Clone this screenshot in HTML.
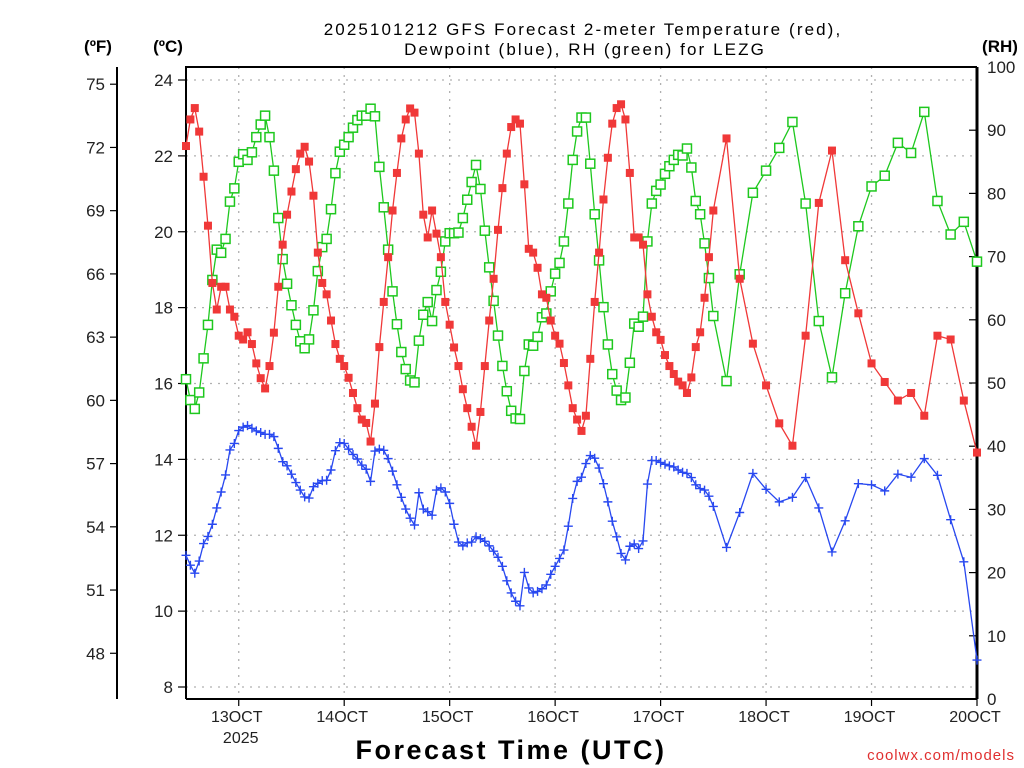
<!DOCTYPE html>
<html><head><meta charset="utf-8">
<style>
html,body{margin:0;padding:0;background:#fff;}
svg{display:block;font-family:"Liberation Sans",sans-serif;}
</style></head>
<body>
<svg id="chart" width="1024" height="768" viewBox="0 0 1024 768" xmlns="http://www.w3.org/2000/svg">
<text x="583" y="35" font-size="17" text-anchor="middle" fill="#000" letter-spacing="2.1">2025101212 GFS Forecast 2-meter Temperature (red),</text>
<text x="585" y="55" font-size="17" text-anchor="middle" fill="#000" letter-spacing="2.1">Dewpoint (blue), RH (green) for LEZG</text>
<text x="98" y="52" font-size="17" font-weight="bold" text-anchor="middle">(ºF)</text>
<text x="168" y="52" font-size="17" font-weight="bold" text-anchor="middle">(ºC)</text>
<text x="1000" y="52" font-size="17" font-weight="bold" text-anchor="middle">(RH)</text>
<g id="grid"></g>
<g id="axes"></g>
<g id="series"></g>
<text x="511" y="759" font-size="27" font-weight="bold" text-anchor="middle" letter-spacing="2.5">Forecast Time (UTC)</text>
<text x="1015" y="760" font-size="15" fill="#e03030" text-anchor="end" letter-spacing="1">coolwx.com/models</text>
</svg>
<script>
const tempC=[22.26,22.96,23.26,22.64,21.45,20.16,18.65,17.95,18.55,18.55,17.95,17.76,17.26,17.16,17.35,17.04,16.53,16.14,15.87,16.46,17.34,18.55,19.66,20.45,21.06,21.65,22.06,22.24,21.85,20.95,19.45,18.65,18.35,17.66,17.04,16.65,16.46,16.15,15.75,15.35,15.05,14.96,14.47,15.47,16.96,18.15,19.33,20.56,21.55,22.46,22.96,23.25,23.14,22.06,20.45,19.85,20.56,19.95,19.33,18.15,17.55,16.95,16.46,15.85,15.35,14.86,14.36,15.25,16.46,17.66,18.76,20.05,21.15,22.06,22.76,22.96,22.85,21.25,19.55,19.45,19.05,18.35,18.26,17.66,17.26,17.05,16.54,15.95,15.35,15.05,14.75,15.15,16.65,18.15,19.45,20.85,21.95,22.85,23.26,23.36,22.96,21.55,19.85,19.85,19.66,18.35,17.76,17.35,17.15,16.75,16.46,16.25,16.05,15.95,15.75,16.16,16.96,17.35,18.26,19.33,20.56,22.46,18.76,17.05,15.95,14.95,14.36,17.26,20.76,22.14,19.25,17.85,16.53,16.04,15.55,15.75,15.15,17.26,17.16,15.55,14.18];
const dewC=[11.47,11.21,11.0,11.32,11.78,11.97,12.29,12.72,13.14,13.59,14.25,14.42,14.76,14.85,14.89,14.82,14.75,14.71,14.66,14.66,14.6,14.29,13.94,13.83,13.61,13.39,13.19,13.01,12.98,13.28,13.37,13.44,13.45,13.72,14.23,14.44,14.42,14.27,14.13,14.01,13.85,13.74,13.42,14.22,14.27,14.24,14.02,13.69,13.33,13.0,12.69,12.45,12.27,13.12,12.69,12.62,12.53,13.19,13.25,13.14,12.84,12.29,11.82,11.72,11.8,11.82,11.96,11.91,11.84,11.72,11.58,11.42,11.18,10.8,10.48,10.26,10.14,11.02,10.61,10.48,10.52,10.59,10.69,10.97,11.18,11.39,11.61,12.24,12.97,13.42,13.53,13.89,14.1,14.03,13.77,13.36,12.88,12.37,11.96,11.52,11.35,11.71,11.77,11.65,11.85,13.35,13.97,13.97,13.92,13.87,13.83,13.8,13.72,13.66,13.63,13.52,13.33,13.23,13.19,13.03,12.76,11.68,12.6,13.63,13.21,12.88,13.0,13.52,12.72,11.56,12.38,13.36,13.33,13.17,13.61,13.53,14.02,13.58,12.41,11.3,8.71];
const rhPct=[50.6,47.3,45.9,48.5,53.9,59.2,66.3,71.1,70.6,72.8,78.7,80.8,85.0,86.2,85.3,86.5,88.9,90.9,92.3,88.9,83.6,76.1,69.6,65.7,62.3,59.2,56.6,55.5,56.9,61.5,67.7,71.5,72.8,77.5,83.2,86.6,87.7,88.9,90.4,91.6,92.3,92.3,93.4,92.2,84.2,77.8,71.1,64.5,59.3,54.9,52.2,50.4,50.1,56.7,60.8,62.8,59.8,64.7,67.6,72.4,73.7,73.7,73.8,76.1,79.0,81.8,84.5,80.7,74.1,68.3,63.0,57.5,52.7,48.7,45.6,44.4,44.3,51.9,56.1,55.9,57.3,60.4,61.0,64.5,67.3,69.0,72.4,78.4,85.3,89.8,92.0,92.0,84.7,76.7,69.4,62.0,56.1,51.4,48.8,47.3,47.7,53.2,59.4,58.9,60.5,72.4,78.4,80.4,81.4,83.1,84.3,85.3,86.1,86.0,87.1,84.1,78.8,76.7,72.1,66.6,60.6,50.3,67.2,80.1,83.6,87.2,91.3,78.4,59.8,50.9,64.2,74.8,81.1,82.8,88.0,86.4,92.9,78.8,73.5,75.5,69.2];
const dayLabels=["13OCT","14OCT","15OCT","16OCT","17OCT","18OCT","19OCT","20OCT"];
const cTicks=[24,22,20,18,16,14,12,10,8];
const fTicks=[75,72,69,66,63,60,57,54,51,48];
const rhTicks=[100,90,80,70,60,50,40,30,20,10,0];
// forecast hours: hourly 0..120, then every 3h to 180
const hours=[];
for(let h=0;h<=120;h++)hours.push(h);
for(let h=123;h<=180;h+=3)hours.push(h);

const NS="http://www.w3.org/2000/svg";
const L=186,R=977,T=67,B=699;
const xH=h=>L+(R-L)*h/180;
const yC=c=>80+(24-c)*(607/16);
const yF=f=>yC((f-32)*5/9);
const yRH=r=>B-(B-T)*r/100;
function mk(tag,attrs,parent){const e=document.createElementNS(NS,tag);for(const k in attrs)e.setAttribute(k,attrs[k]);parent.appendChild(e);return e;}
const grid=document.getElementById('grid'),axes=document.getElementById('axes'),ser=document.getElementById('series');

cTicks.forEach(c=>{
  const g=mk('line',{x1:L,x2:R,y1:yC(c),y2:yC(c),stroke:'#b0b0b0','stroke-width':1.3,'stroke-dasharray':'2,6'},grid);
  
  
  const t=mk('line',{x1:L-8,x2:L,y1:yC(c),y2:yC(c),stroke:'#000','stroke-width':1.2},axes);
  
  
  const lb=mk('text',{x:L-13,y:yC(c)+6,'font-size':17,'text-anchor':'end',fill:'#222'},axes);lb.textContent=c;
  
  
});
dayLabels.forEach((d,i)=>{
  const h=12+24*i,x=xH(h);
  if(i<7){const g=mk('line',{x1:x,x2:x,y1:T,y2:B,stroke:'#b0b0b0','stroke-width':1.3,'stroke-dasharray':'2,6'},grid);
  
  }
  const t=mk('line',{x1:x,x2:x,y1:B,y2:B+7,stroke:'#000','stroke-width':1.2},axes);
  
  
  const lb=mk('text',{x:x-2,y:722,'font-size':16,'text-anchor':'middle',fill:'#222'},axes);lb.textContent=d;
  
  
});
{const y=mk('text',{x:xH(12)+2,y:743,'font-size':16,'text-anchor':'middle',fill:'#222'},axes);y.textContent='2025';

}
const fl=mk('line',{x1:117,x2:117,y1:T,y2:B,stroke:'#000','stroke-width':2},axes);


fTicks.forEach(f=>{
  const t=mk('line',{x1:110,x2:117,y1:yF(f),y2:yF(f),stroke:'#000','stroke-width':1.2},axes);
  
  
  const lb=mk('text',{x:105,y:yF(f)+6,'font-size':17,'text-anchor':'end',fill:'#222'},axes);lb.textContent=f;
  
  
});
rhTicks.forEach(r=>{
  const t=mk('line',{x1:R-8,x2:R,y1:yRH(r),y2:yRH(r),stroke:'#000','stroke-width':1.2},axes);
  
  
  const lb=mk('text',{x:987,y:yRH(r)+6,'font-size':17,'text-anchor':'start',fill:'#222'},axes);lb.textContent=r;
  
  
});
const fr=mk('path',{d:`M${L},${B}V${T}H${R}`,fill:'none',stroke:'#000','stroke-width':2},axes);


const rb=mk('line',{x1:R,x2:R,y1:T,y2:B,stroke:'#000','stroke-width':3},axes);


const bb=mk('line',{x1:L,x2:R,y1:B,y2:B,stroke:'#000','stroke-width':2},axes);



function drawSeries(vals,yfn,color,kind,name){
  const pts=vals.map((v,i)=>[xH(hours[i]),yfn(v)]);
  const pl=mk('polyline',{points:pts.map(p=>p.join(',')).join(' '),fill:'none',stroke:color,'stroke-width':1.3},ser);
  
  
  pts.forEach(([x,y])=>{
    let m;
    if(kind==='fill')m=mk('rect',{x:x-4,y:y-4,width:8,height:8,fill:color},ser);
    else if(kind==='open')m=mk('rect',{x:x-4.5,y:y-4.5,width:9,height:9,fill:'#fff',stroke:color,'stroke-width':1.5},ser);
    else m=mk('path',{d:`M${x-4.5},${y}H${x+4.5}M${x},${y-4.5}V${y+4.5}`,stroke:color,'stroke-width':1.4},ser);
    
    
  });
}
drawSeries(rhPct,yRH,'#1ec81e','open','rh');
drawSeries(dewC,yC,'#2848f0','plus','dewpoint');
drawSeries(tempC,yC,'#f03838','fill','temperature');
</script>
</body></html>
